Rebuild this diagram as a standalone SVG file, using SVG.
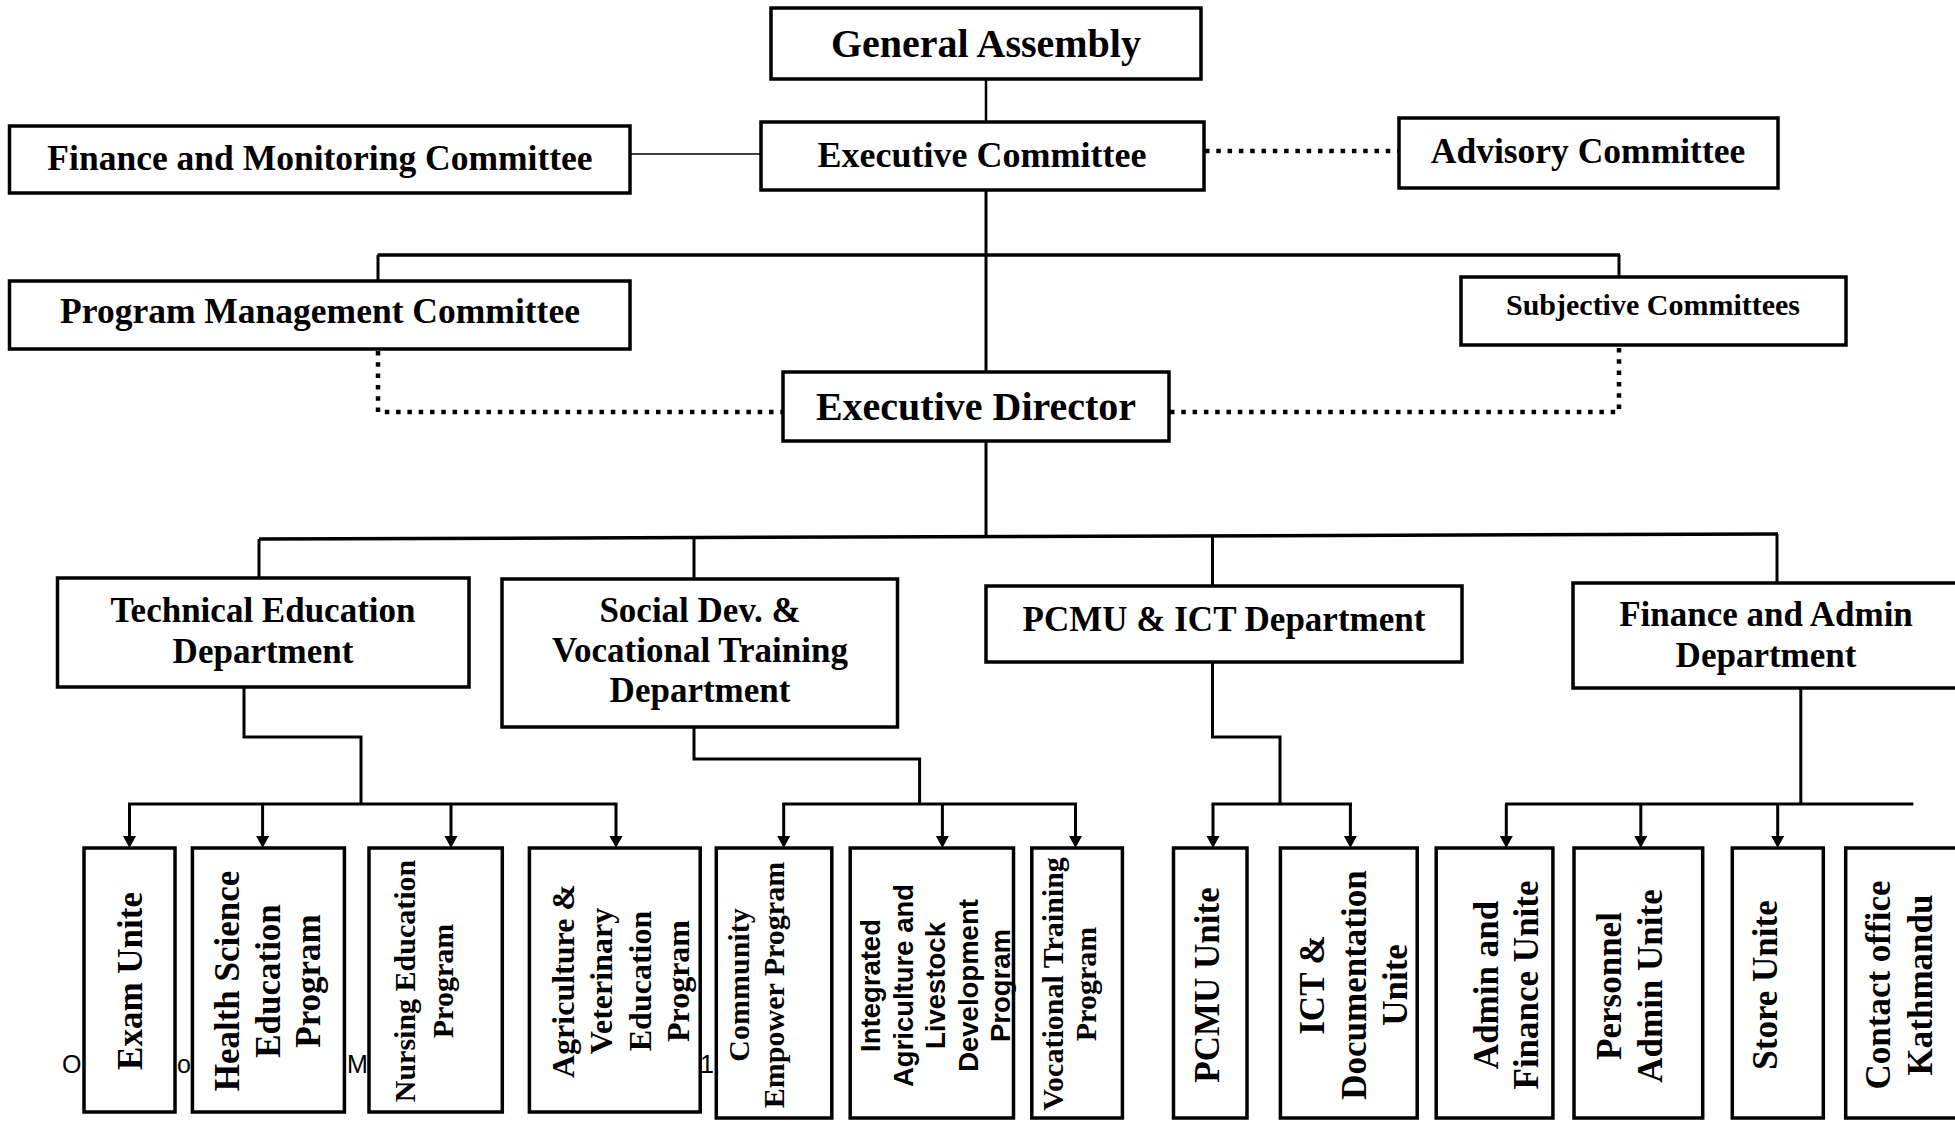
<svg xmlns="http://www.w3.org/2000/svg" width="1955" height="1121" viewBox="0 0 1955 1121">
<style>
.box{fill:#fff;stroke:#000;stroke-width:3.5}
.t{font-family:"Liberation Serif","Times New Roman",serif;font-weight:bold;text-anchor:middle;fill:#000}
.s{font-family:"Liberation Sans",Arial,sans-serif;font-weight:bold;text-anchor:middle;fill:#000}
.stray{font-family:"Liberation Sans",Arial,sans-serif;font-size:25px;fill:#000}
.ln{fill:none;stroke:#000;stroke-width:3}
.thin{fill:none;stroke:#000;stroke-width:1.6}
.dot{fill:none;stroke:#000;stroke-width:4.5;stroke-dasharray:4.5 6.8}
.arr{fill:none;stroke:#000;stroke-width:3;marker-end:url(#ah)}
</style>
<defs>
<marker id="ah" markerUnits="userSpaceOnUse" markerWidth="14" markerHeight="14" refX="4" refY="6.5" orient="auto">
<path d="M0,0 L12,6.5 L0,13 Z" fill="#000"/>
</marker>
</defs>
<rect width="1955" height="1121" fill="#fff"/>

<g id="stray-text">
<text class="stray" x="62" y="1073">O</text>
<text class="stray" x="177" y="1073">o</text>
<text class="stray" x="347" y="1073">M</text>
<text class="stray" x="700" y="1073">1</text>
</g>

<g id="connectors">
<line class="ln" x1="986" y1="79" x2="986" y2="122" style="stroke-width:2.5"/>
<line class="thin" x1="630" y1="154" x2="761" y2="154"/>
<line class="dot" x1="1205" y1="151" x2="1399" y2="151"/>
<line class="ln" x1="986" y1="190" x2="986" y2="372"/>
<line class="ln" x1="377.5" y1="255" x2="1620" y2="255" style="stroke-width:3.5"/>
<line class="ln" x1="378" y1="255" x2="378" y2="281"/>
<line class="ln" x1="1619" y1="255" x2="1619" y2="277"/>
<path class="dot" d="M378 351 V412 H783"/>
<path class="dot" d="M1170 412 H1619 V346"/>
<line class="ln" x1="986" y1="441" x2="986" y2="537"/>
<path class="ln" d="M259 539 L1778 534" style="stroke-width:3.5"/>
<line class="ln" x1="259" y1="539" x2="259" y2="578"/>
<line class="ln" x1="694" y1="538" x2="694" y2="579"/>
<line class="ln" x1="1212.5" y1="536" x2="1212.5" y2="586"/>
<line class="ln" x1="1777" y1="534" x2="1777" y2="583"/>

<path class="ln" d="M244 687 V737 H361 V804"/>
<line class="ln" x1="128" y1="804" x2="617.5" y2="804"/>
<line class="arr" x1="129.5" y1="804" x2="129.5" y2="840"/>
<line class="arr" x1="262.6" y1="804" x2="262.6" y2="840"/>
<line class="arr" x1="451" y1="804" x2="451" y2="840"/>
<line class="arr" x1="616" y1="804" x2="616" y2="840"/>

<path class="ln" d="M694 707 V759 H919.6 V804"/>
<line class="ln" x1="782.2" y1="804" x2="1077" y2="804"/>
<line class="arr" x1="783.7" y1="804" x2="783.7" y2="840"/>
<line class="arr" x1="942.4" y1="804" x2="942.4" y2="840"/>
<line class="arr" x1="1075.5" y1="804" x2="1075.5" y2="840"/>

<path class="ln" d="M1212.5 662 V737 H1280 V804"/>
<line class="ln" x1="1211.5" y1="804" x2="1352" y2="804"/>
<line class="arr" x1="1213" y1="804" x2="1213" y2="840"/>
<line class="arr" x1="1350.4" y1="804" x2="1350.4" y2="840"/>

<line class="ln" x1="1800.8" y1="688" x2="1800.8" y2="804"/>
<line class="ln" x1="1505" y1="804" x2="1913.4" y2="804"/>
<line class="arr" x1="1506.3" y1="804" x2="1506.3" y2="840"/>
<line class="arr" x1="1640.8" y1="804" x2="1640.8" y2="840"/>
<line class="arr" x1="1777.7" y1="804" x2="1777.7" y2="840"/>
</g>

<g id="general-assembly">
<rect class="box" x="771" y="8" width="430" height="71"/>
<text class="t" x="986" y="57" font-size="40">General Assembly</text>
</g>
<g id="executive-committee">
<rect class="box" x="761" y="122" width="443" height="68"/>
<text class="t" x="982" y="167" font-size="36">Executive Committee</text>
</g>
<g id="finance-monitoring-committee">
<rect class="box" x="9.5" y="126" width="620.5" height="67"/>
<text class="t" x="320" y="170" font-size="35.5">Finance and Monitoring Committee</text>
</g>
<g id="advisory-committee">
<rect class="box" x="1399" y="118" width="379" height="70"/>
<text class="t" x="1588" y="163" font-size="35.5">Advisory Committee</text>
</g>
<g id="program-management-committee">
<rect class="box" x="9.5" y="281" width="620.5" height="68"/>
<text class="t" x="320" y="323" font-size="35.5">Program Management Committee</text>
</g>
<g id="subjective-committees">
<rect class="box" x="1461" y="277" width="385" height="68"/>
<text class="t" x="1653" y="315" font-size="30">Subjective Committees</text>
</g>
<g id="executive-director">
<rect class="box" x="783" y="372" width="386" height="69"/>
<text class="t" x="976" y="420" font-size="40">Executive Director</text>
</g>

<g id="technical-education-department">
<rect class="box" x="57.5" y="578" width="411.5" height="109"/>
<text class="t" x="263" y="622" font-size="35">Technical Education</text>
<text class="t" x="263" y="663" font-size="35">Department</text>
</g>
<g id="social-dev-vocational-training-department">
<rect class="box" x="502" y="579" width="395.5" height="148"/>
<text class="t" x="700" y="622" font-size="35">Social Dev. &amp;</text>
<text class="t" x="700" y="662" font-size="35">Vocational Training</text>
<text class="t" x="700" y="702" font-size="35">Department</text>
</g>
<g id="pcmu-ict-department">
<rect class="box" x="986" y="586" width="476" height="76"/>
<text class="t" x="1224" y="631" font-size="35">PCMU &amp; ICT Department</text>
</g>
<g id="finance-admin-department">
<rect class="box" x="1573" y="583" width="390" height="105"/>
<text class="t" x="1766" y="626" font-size="35">Finance and Admin</text>
<text class="t" x="1766" y="667" font-size="35">Department</text>
</g>

<g id="exam-unite">
<rect class="box" x="84" y="848" width="91" height="264"/>
<text class="t" font-size="35" transform="translate(142,981) rotate(-90)">Exam Unite</text>
</g>
<g id="health-science-education-program">
<rect class="box" x="192.4" y="848" width="152" height="264"/>
<text class="t" font-size="35" transform="translate(239,981) rotate(-90)"><tspan x="0" dy="0">Health Science</tspan><tspan x="0" dy="41">Education</tspan><tspan x="0" dy="40">Program</tspan></text>
</g>
<g id="nursing-education-program">
<rect class="box" x="369" y="848" width="133.3" height="264"/>
<text class="t" font-size="30" transform="translate(415,981) rotate(-90)"><tspan x="0" dy="0">Nursing Education</tspan><tspan x="0" dy="38">Program</tspan></text>
</g>
<g id="agriculture-veterinary-education-program">
<rect class="box" x="529.4" y="848" width="170.8" height="264"/>
<text class="t" font-size="32" transform="translate(574,981) rotate(-90)"><tspan x="0" dy="0">Agriculture &amp;</tspan><tspan x="0" dy="38.3">Veterinary</tspan><tspan x="0" dy="38.3">Education</tspan><tspan x="0" dy="38.3">Program</tspan></text>
</g>
<g id="community-empower-program">
<rect class="box" x="716.3" y="848" width="115.5" height="270"/>
<text class="t" font-size="30" transform="translate(749,985) rotate(-90)"><tspan x="0" dy="0">Community</tspan><tspan x="0" dy="35">Empower Program</tspan></text>
</g>
<g id="integrated-agriculture-livestock-program">
<rect class="box" x="850.2" y="848" width="163.3" height="270"/>
<text class="s" font-size="27.5" transform="translate(880,985.5) rotate(-90)"><tspan x="0" dy="0">Integrated</tspan><tspan x="0" dy="32.5">Agriculture and</tspan><tspan x="0" dy="32.5">Livestock</tspan><tspan x="0" dy="32.5">Development</tspan><tspan x="0" dy="32.5">Program</tspan></text>
</g>
<g id="vocational-training-program">
<rect class="box" x="1031.8" y="848" width="90.6" height="270"/>
<text class="t" font-size="30" transform="translate(1063,984) rotate(-90)"><tspan x="0" dy="0">Vocational Training</tspan><tspan x="0" dy="33">Program</tspan></text>
</g>
<g id="pcmu-unite">
<rect class="box" x="1173.5" y="848" width="73.5" height="270"/>
<text class="t" font-size="35" transform="translate(1219,985) rotate(-90)">PCMU Unite</text>
</g>
<g id="ict-documentation-unite">
<rect class="box" x="1280.4" y="848" width="136.8" height="270"/>
<text class="t" font-size="35" transform="translate(1324,985) rotate(-90)"><tspan x="0" dy="0">ICT &amp;</tspan><tspan x="0" dy="41.5">Documentation</tspan><tspan x="0" dy="41.5">Unite</tspan></text>
</g>
<g id="admin-finance-unite">
<rect class="box" x="1436.2" y="848" width="116.7" height="270"/>
<text class="t" font-size="35" transform="translate(1498,985) rotate(-90)"><tspan x="0" dy="0">Admin and</tspan><tspan x="0" dy="40">Finance Unite</tspan></text>
</g>
<g id="personnel-admin-unite">
<rect class="box" x="1574" y="848" width="128.7" height="270"/>
<text class="t" font-size="35" transform="translate(1621,986) rotate(-90)"><tspan x="0" dy="0">Personnel</tspan><tspan x="0" dy="41">Admin Unite</tspan></text>
</g>
<g id="store-unite">
<rect class="box" x="1732.3" y="848" width="91" height="270"/>
<text class="t" font-size="35" transform="translate(1777,985) rotate(-90)">Store Unite</text>
</g>
<g id="contact-office-kathmandu">
<rect class="box" x="1845.7" y="848" width="120" height="270"/>
<text class="t" font-size="35" transform="translate(1890,985) rotate(-90)"><tspan x="0" dy="0">Contact office</tspan><tspan x="0" dy="42">Kathmandu</tspan></text>
</g>
</svg>
